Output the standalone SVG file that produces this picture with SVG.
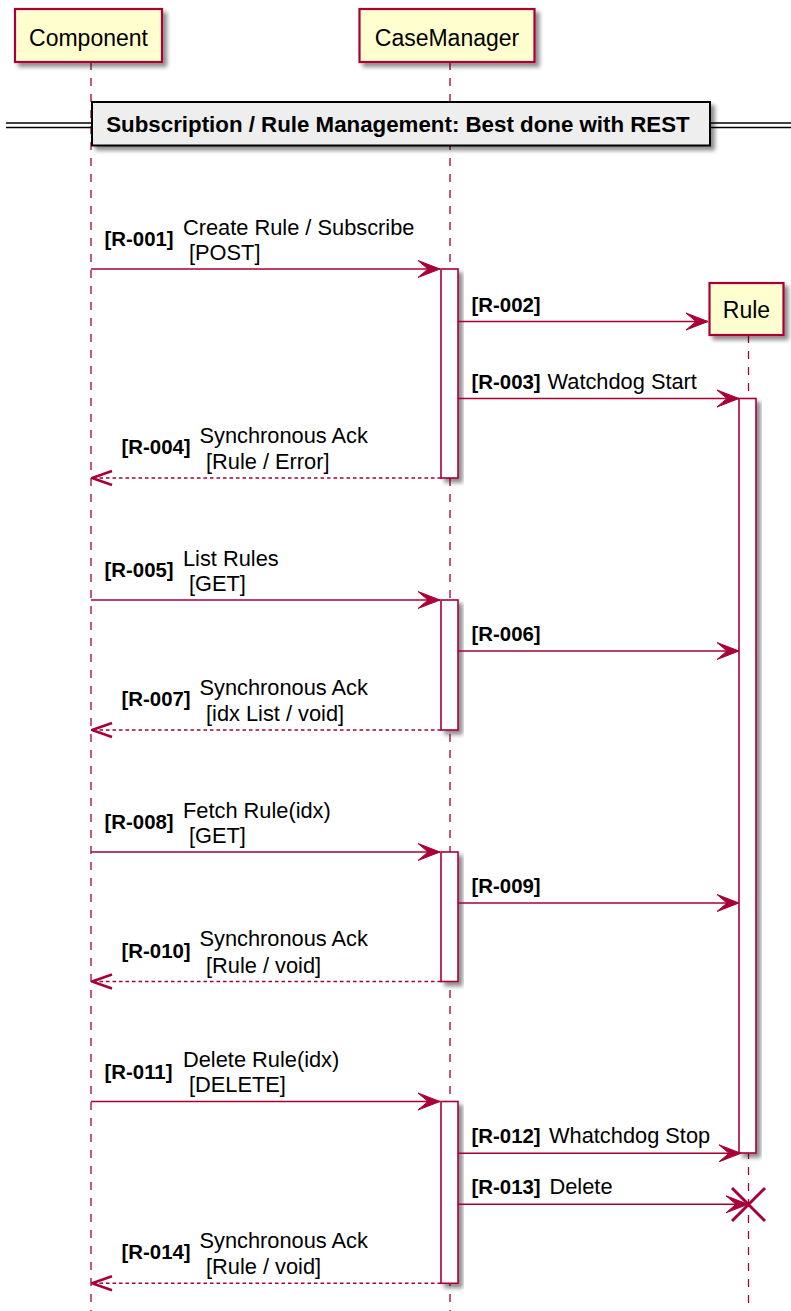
<svg xmlns="http://www.w3.org/2000/svg" width="791" height="1311" viewBox="0 0 791 1311">
<style>
.life{stroke:#A80036;stroke-width:1.3;stroke-dasharray:8,8;fill:none}
.part{fill:#FEFECE;stroke:#A80036;stroke-width:2.2}
.act{fill:#FFFFFF;stroke:#A80036;stroke-width:1.6}
.msg{stroke:#A80036;stroke-width:1.6;fill:none}
.ret{stroke:#A80036;stroke-width:1.6;fill:none;stroke-dasharray:3.5,3}
.pt{font-family:"Liberation Sans",Arial,sans-serif;font-size:23px;fill:#000;text-anchor:middle}
.mt{font-family:"Liberation Sans",Arial,sans-serif;font-size:21.8px;fill:#000}
.bt{font-family:"Liberation Sans",Arial,sans-serif;font-size:20.4px;font-weight:bold;fill:#000}
.dt{font-family:"Liberation Sans",Arial,sans-serif;font-size:22.3px;font-weight:bold;fill:#000;text-anchor:middle}
.dl{stroke:#000;stroke-width:1.5}
</style>
<defs>
<filter id="sh" x="-20%" y="-20%" width="150%" height="150%">
<feGaussianBlur in="SourceAlpha" stdDeviation="2.2"/>
<feOffset dx="4" dy="4" result="o"/>
<feComponentTransfer><feFuncA type="linear" slope="0.45"/></feComponentTransfer>
<feMerge><feMergeNode/><feMergeNode in="SourceGraphic"/></feMerge>
</filter>
<marker id="ah" markerUnits="userSpaceOnUse" viewBox="-23 -10 24 20" markerWidth="24" markerHeight="20" refX="0" refY="0" orient="auto">
<path d="M0,0 L-22,-8.5 L-12,0 L-22,8.5 Z" fill="#A80036" stroke="#A80036" stroke-width="1"/>
</marker>
<marker id="oh" markerUnits="userSpaceOnUse" viewBox="-23 -10 24 20" markerWidth="24" markerHeight="20" refX="0" refY="0" orient="auto">
<path d="M-20,-7 L0,0 L-20,7" fill="none" stroke="#A80036" stroke-width="2.6" stroke-linejoin="miter"/>
</marker>
</defs>
<rect width="791" height="1311" fill="#FFFFFF"/>

<g id="Component">
<line class="life" x1="91" y1="62" x2="91" y2="1311"/>
<rect class="part" x="15" y="9" width="147" height="53" filter="url(#sh)"/>
<text class="pt" x="88.5" y="46">Component</text>
</g>
<g id="CaseManager">
<line class="life" x1="450" y1="62" x2="450" y2="1311"/>
<rect class="part" x="359.5" y="9" width="175" height="53" filter="url(#sh)"/>
<text class="pt" x="447" y="46">CaseManager</text>
</g>
<g id="Rule">
<line class="life" x1="748.5" y1="335" x2="748.5" y2="1311"/>
<rect class="part" x="709.5" y="283" width="74" height="52" filter="url(#sh)"/>
<text class="pt" x="746.5" y="318">Rule</text>
</g>

<g id="divider">
<line class="dl" x1="6" y1="123" x2="92" y2="123"/>
<line class="dl" x1="6" y1="127.5" x2="92" y2="127.5"/>
<line class="dl" x1="710" y1="123" x2="791" y2="123"/>
<line class="dl" x1="710" y1="127.5" x2="791" y2="127.5"/>
<rect x="92" y="102" width="618" height="43.5" fill="#EEEEEE" stroke="#000" stroke-width="2" filter="url(#sh)"/>
<text class="dt" x="398" y="131.5">Subscription / Rule Management: Best done with REST</text>
</g>

<g id="activations">
<rect class="act" x="441" y="269" width="17" height="209" filter="url(#sh)"/>
<rect class="act" x="441" y="600" width="17" height="130" filter="url(#sh)"/>
<rect class="act" x="441" y="852" width="17" height="129.5" filter="url(#sh)"/>
<rect class="act" x="441" y="1101.5" width="17" height="181.8" filter="url(#sh)"/>
<rect class="act" x="739" y="398.5" width="17" height="754.5" filter="url(#sh)"/>
</g>

<g id="connectors">
<g id="R-001">
<line class="msg" x1="91" y1="269" x2="440" y2="269" marker-end="url(#ah)"/>
<text class="bt" x="104.5" y="246">[R-001]</text>
<text class="mt" x="183" y="234.5">Create Rule / Subscribe</text>
<text class="mt" x="189" y="260">[POST]</text>
</g>
<g id="R-002">
<line class="msg" x1="458" y1="321.5" x2="708" y2="321.5" marker-end="url(#ah)"/>
<text class="bt" x="471.5" y="311.5">[R-002]</text>
</g>
<g id="R-003">
<line class="msg" x1="458" y1="398.5" x2="739" y2="398.5" marker-end="url(#ah)"/>
<text class="bt" x="471.5" y="388.5">[R-003]</text>
<text class="mt" x="547.5" y="388.5">Watchdog Start</text>
</g>
<g id="R-004">
<line class="ret" x1="441" y1="478" x2="92" y2="478" marker-end="url(#oh)"/>
<text class="bt" x="121.5" y="454">[R-004]</text>
<text class="mt" x="199.5" y="442.5">Synchronous Ack</text>
<text class="mt" x="206" y="469">[Rule / Error]</text>
</g>
<g id="R-005">
<line class="msg" x1="91" y1="600" x2="440" y2="600" marker-end="url(#ah)"/>
<text class="bt" x="104.5" y="577">[R-005]</text>
<text class="mt" x="183" y="565.5">List Rules</text>
<text class="mt" x="189" y="590.5">[GET]</text>
</g>
<g id="R-006">
<line class="msg" x1="458" y1="651" x2="739" y2="651" marker-end="url(#ah)"/>
<text class="bt" x="471.5" y="641">[R-006]</text>
</g>
<g id="R-007">
<line class="ret" x1="441" y1="730" x2="92" y2="730" marker-end="url(#oh)"/>
<text class="bt" x="121.5" y="706">[R-007]</text>
<text class="mt" x="199.5" y="694.5">Synchronous Ack</text>
<text class="mt" x="206" y="721">[idx List / void]</text>
</g>
<g id="R-008">
<line class="msg" x1="91" y1="852" x2="440" y2="852" marker-end="url(#ah)"/>
<text class="bt" x="104.5" y="829">[R-008]</text>
<text class="mt" x="183" y="817.5">Fetch Rule(idx)</text>
<text class="mt" x="189" y="842.5">[GET]</text>
</g>
<g id="R-009">
<line class="msg" x1="458" y1="903" x2="739" y2="903" marker-end="url(#ah)"/>
<text class="bt" x="471.5" y="893">[R-009]</text>
</g>
<g id="R-010">
<line class="ret" x1="441" y1="981.5" x2="92" y2="981.5" marker-end="url(#oh)"/>
<text class="bt" x="121.5" y="957.5">[R-010]</text>
<text class="mt" x="199.5" y="946">Synchronous Ack</text>
<text class="mt" x="206" y="972.5">[Rule / void]</text>
</g>
<g id="R-011">
<line class="msg" x1="91" y1="1101.5" x2="440" y2="1101.5" marker-end="url(#ah)"/>
<text class="bt" x="104.5" y="1078.5">[R-011]</text>
<text class="mt" x="183" y="1067">Delete Rule(idx)</text>
<text class="mt" x="189" y="1092">[DELETE]</text>
</g>
<g id="R-012">
<line class="msg" x1="458" y1="1153.3" x2="741" y2="1153.3" marker-end="url(#ah)"/>
<text class="bt" x="471.5" y="1143.3">[R-012]</text>
<text class="mt" x="549" y="1143.3">Whatchdog Stop</text>
</g>
<g id="R-013">
<line class="msg" x1="458" y1="1204.3" x2="748" y2="1204.3" marker-end="url(#ah)"/>
<text class="bt" x="471.5" y="1194.3">[R-013]</text>
<text class="mt" x="549.5" y="1194.3">Delete</text>
</g>
<g id="R-014">
<line class="ret" x1="441" y1="1283.3" x2="92" y2="1283.3" marker-end="url(#oh)"/>
<text class="bt" x="121.5" y="1259.3">[R-014]</text>
<text class="mt" x="199.5" y="1247.8">Synchronous Ack</text>
<text class="mt" x="206" y="1274.3">[Rule / void]</text>
</g>
</g>

<g id="destroy">
<line x1="732" y1="1188" x2="765" y2="1221" stroke="#A80036" stroke-width="3"/>
<line x1="732" y1="1221" x2="765" y2="1188" stroke="#A80036" stroke-width="3"/>
</g>
</svg>
